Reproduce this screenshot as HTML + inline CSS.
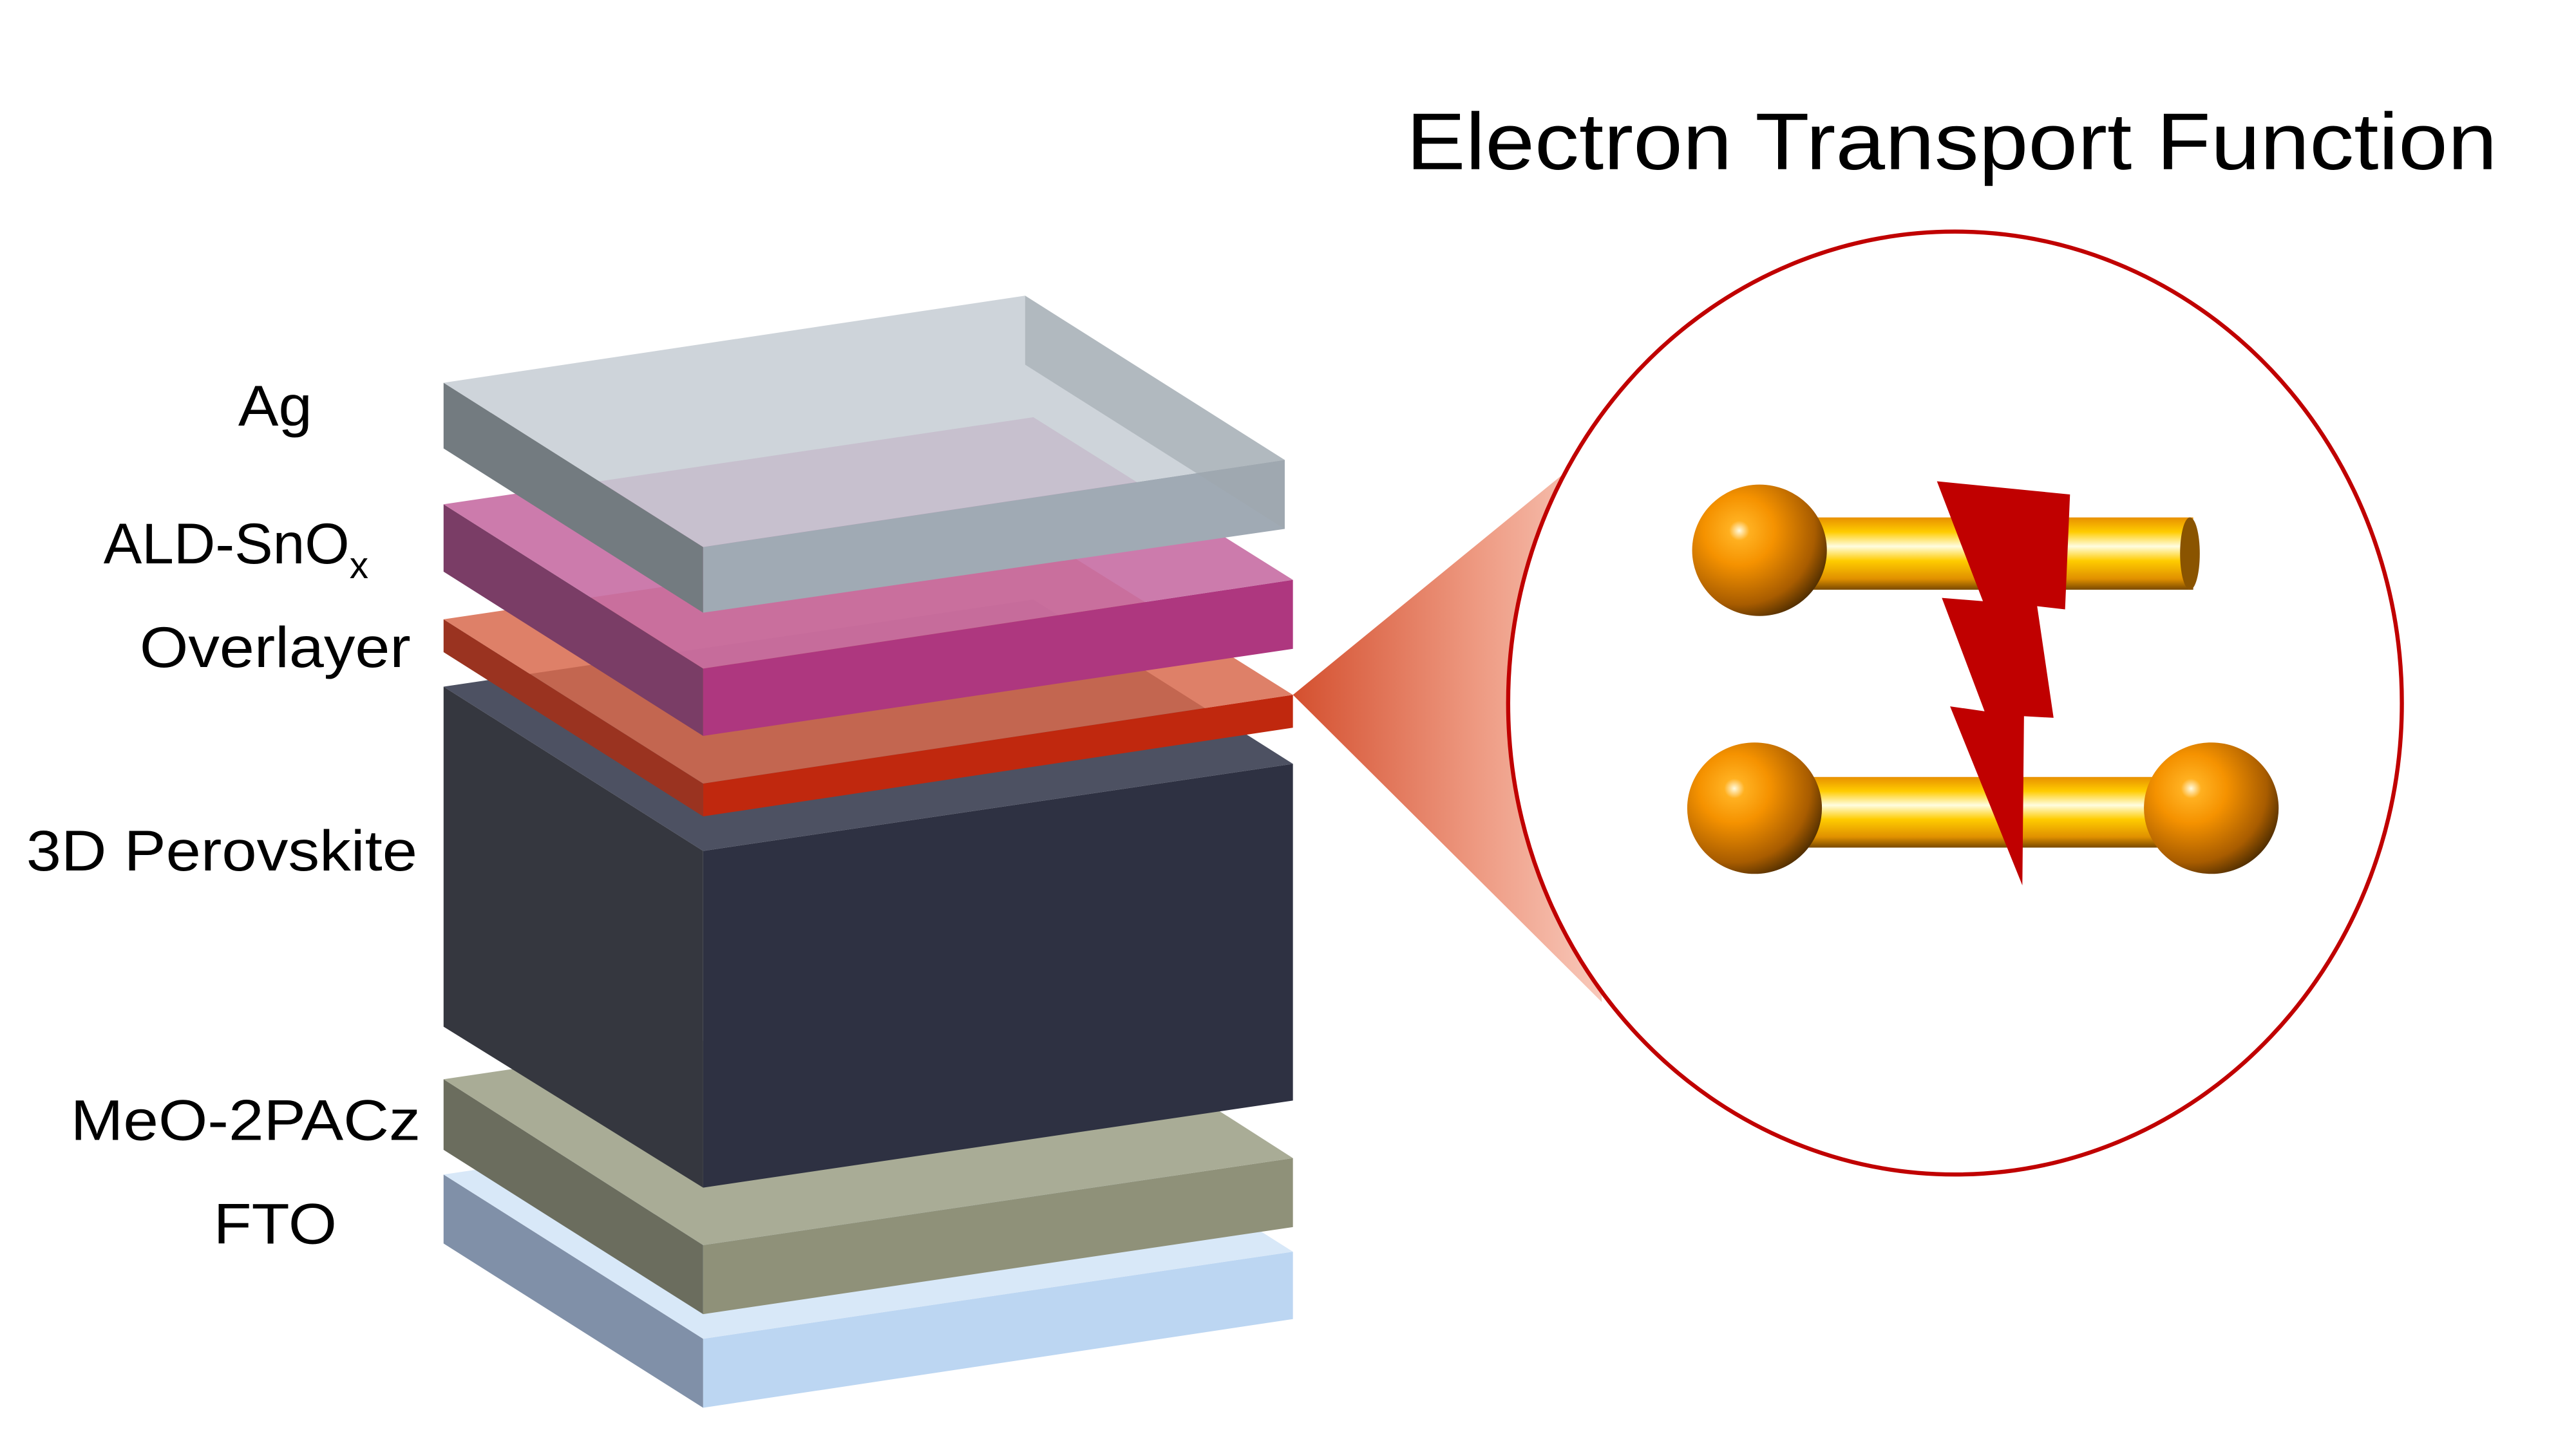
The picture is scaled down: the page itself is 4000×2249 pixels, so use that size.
<!DOCTYPE html>
<html><head><meta charset="utf-8"><style>
html,body{margin:0;padding:0;background:#fff;}
svg{display:block;}
</style></head><body>
<svg width="4000" height="2249" viewBox="0 0 1568 881.5" preserveAspectRatio="none" xmlns="http://www.w3.org/2000/svg">
<defs>
<linearGradient id="cone" x1="787" y1="0" x2="975" y2="0" gradientUnits="userSpaceOnUse">
<stop offset="0" stop-color="#d4502f"/><stop offset="0.6" stop-color="#ee9a82"/><stop offset="1" stop-color="#f8c9bb"/>
</linearGradient>
<radialGradient id="ball" cx="0.35" cy="0.35" r="0.75">
<stop offset="0" stop-color="#fffbe0"/><stop offset="0.1" stop-color="#ffb020"/><stop offset="0.35" stop-color="#f59200"/><stop offset="0.75" stop-color="#a85c00"/><stop offset="1" stop-color="#3a2200"/>
</radialGradient>
<linearGradient id="rod" x1="0" y1="0" x2="0" y2="1">
<stop offset="0" stop-color="#e89000"/><stop offset="0.2" stop-color="#ffcc00"/><stop offset="0.4" stop-color="#fffde0"/><stop offset="0.6" stop-color="#ffcc00"/><stop offset="0.85" stop-color="#e09000"/><stop offset="1" stop-color="#7a4a00"/>
</linearGradient>
</defs>

<polygon points="787,423 962,280 975,610" fill="url(#cone)"/>
<ellipse cx="1190" cy="428" rx="272" ry="287" fill="#fff" stroke="#c00000" stroke-width="2.5"/>

<polygon points="270,715 428,815 428,857 270,757" fill="#8090a8"/>
<polygon points="428,815 787,762 787,803 428,857" fill="#bcd6f2"/>
<polygon points="270,715 629,662 787,762 428,815" fill="#d8e8f8"/>
<polygon points="270,657 428,758 428,800 270,700" fill="#6b6d5e"/>
<polygon points="428,758 787,705 787,747 428,800" fill="#8f9179"/>
<polygon points="270,657 629,604 787,705 428,758" fill="#a9ac96"/>
<polygon points="270,418 428,518 428,723 270,625" fill="#35373f"/>
<polygon points="428,518 787,465 787,670 428,723" fill="#2e3142"/>
<polygon points="270,418 629,365 787,465 428,518" fill="#4d5162"/>
<polygon points="270,377 428,477 428,497 270,397" fill="#9a3320"/>
<polygon points="428,477 787,423 787,443 428,497" fill="#c0280e"/>
<polygon points="270,377 629,324 787,423 428,477" fill="#d86a4e" opacity="0.85"/>
<polygon points="270,307 428,407 428,448 270,348" fill="#7a3d66"/>
<polygon points="428,407 787,353 787,395 428,448" fill="#ae377f"/>
<polygon points="270,307 629,254 787,353 428,407" fill="#c76da3" opacity="0.9"/>
<polygon points="270,233 428,333 428,373 270,273" fill="#737b80"/>
<polygon points="428,333 782,280 782,322 428,373" fill="#a0aab4"/>
<polygon points="270,233 624,180 782,280 428,333" fill="#c5ccd4" opacity="0.85"/>
<polygon points="624,180 782,280 782,322 624,222" fill="#9ea7ae" opacity="0.6"/>

<g font-family="Liberation Sans, sans-serif" font-size="35" fill="#000">
<text x="145" y="259" textLength="45" lengthAdjust="spacingAndGlyphs">Ag</text>
<text x="63" y="343">ALD-SnO<tspan font-size="23" dy="9">x</tspan></text>
<text x="85" y="406" textLength="165" lengthAdjust="spacingAndGlyphs">Overlayer</text>
<text x="16" y="530" textLength="238" lengthAdjust="spacingAndGlyphs">3D Perovskite</text>
<text x="43" y="694" textLength="213" lengthAdjust="spacingAndGlyphs">MeO-2PACz</text>
<text x="130" y="757" textLength="75" lengthAdjust="spacingAndGlyphs">FTO</text>
</g>
<text x="856" y="103" textLength="664" lengthAdjust="spacingAndGlyphs" font-family="Liberation Sans, sans-serif" font-size="49" fill="#000">Electron Transport Function</text>

<rect x="1071" y="315" width="264" height="44" fill="url(#rod)"/>
<ellipse cx="1333" cy="337" rx="6" ry="22" fill="#8a5400"/>
<rect x="1068" y="473" width="278" height="43" fill="url(#rod)"/>
<ellipse cx="1071" cy="335" rx="41" ry="40" fill="url(#ball)"/>
<ellipse cx="1068" cy="492" rx="41" ry="40" fill="url(#ball)"/>
<ellipse cx="1346" cy="492" rx="41" ry="40" fill="url(#ball)"/>
<polygon points="1179,293 1260,301 1257,371 1240,369 1250,437 1232,436 1231,539 1187,430 1208,433 1182,364 1207,366" fill="#c00000"/>
</svg>
</body></html>
